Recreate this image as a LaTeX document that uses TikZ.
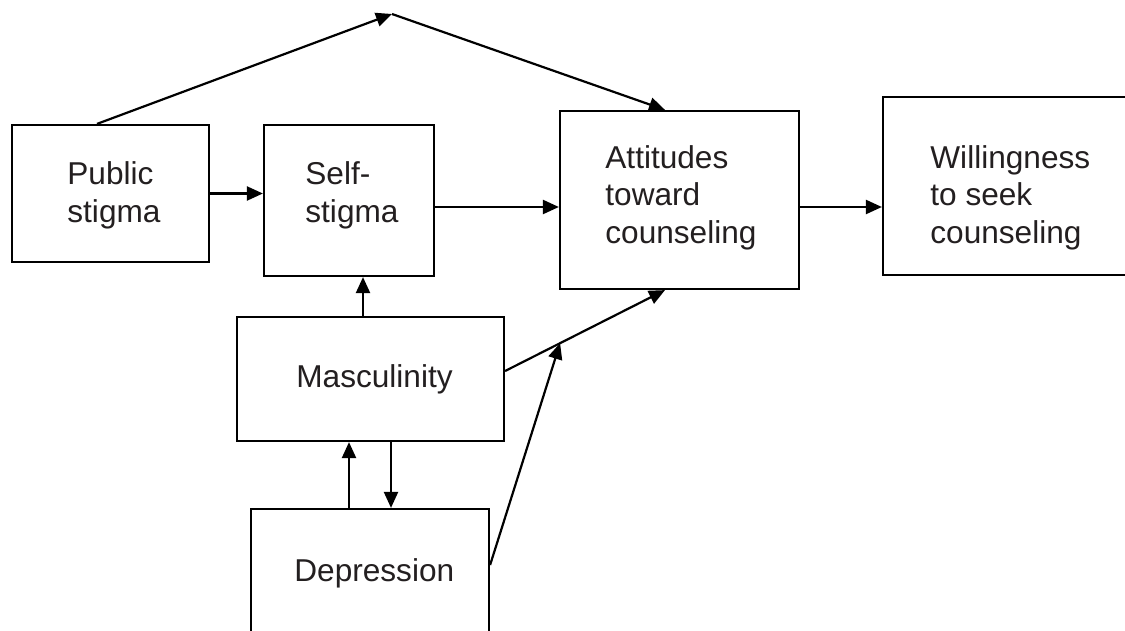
\documentclass[tikz,border=0pt]{standalone}
\usepackage{fontspec}
\setmainfont{Liberation Sans}
\usetikzlibrary{arrows.meta,calc}
\definecolor{ink}{RGB}{35,31,32}
\begin{document}
\begin{tikzpicture}[x=0.5pt,y=-0.5pt,
  box/.style={draw=black,line width=1.1pt,inner sep=0pt},
  lab/.style={anchor=base west,inner sep=0pt,align=left,text=ink,font=\fontsize{15.8}{18.7}\selectfont},
  arr/.style={line width=1.1pt,-{Triangle[length=8pt,width=7pt]}}]
\clip (0,0) rectangle (1125,631);
\fill[white] (0,0) rectangle (1125,631);
% boxes
\node[box,minimum width=98.5pt,minimum height=68.5pt] (pub) at (110.5,193.5) {};
\node[box,minimum width=85pt,minimum height=75.5pt] (self) at (349,200.5) {};
\node[box,minimum width=119.5pt,minimum height=89pt] (att) at (679.5,200) {};
\node[box,minimum width=123.5pt,minimum height=89pt] (will) at (1006.5,186) {};
\node[box,minimum width=133.5pt,minimum height=62pt] (masc) at (370.5,379) {};
\node[box,minimum width=119pt,minimum height=70.5pt] (dep) at (370,579.5) {};
% texts (base anchor = baseline of last line)
\node[lab] (tpub) at (67,222) {Public\\stigma};
\node[lab] (tself) at (305,222) {Self-\\stigma};
\node[lab] (tatt) at (605,243) {Attitudes\\toward\\counseling};
\node[lab] (twill) at (930,243) {Willingness\\to seek\\counseling};
\node[lab] (tmasc) at (296,387) {Masculinity};
\node[lab] (tdep) at (294,581) {Depression};
% connectors
\coordinate (apex) at (392,14);
\draw[arr] ([xshift=-6.75pt]pub.north) -- (apex);
\draw[arr] (apex) -- ([xshift=-7.25pt]att.north);
\draw[arr] (pub.east) -- (pub.east -| self.west);
\draw[arr] ([yshift=-3.25pt]self.east) -- ([yshift=-3.25pt]self.east -| att.west);
\draw[arr] ([yshift=-3.5pt]att.east) -- ([yshift=-3.5pt]att.east -| will.west);
\draw[arr] ([xshift=-3.75pt]masc.north) -- ([xshift=-3.75pt]masc.north |- self.south);
\draw[arr] ([xshift=-10.5pt]dep.north) -- ([xshift=-10.5pt]dep.north |- masc.south);
\draw[arr] ([xshift=10.25pt]masc.south) -- ([xshift=10.25pt]masc.south |- dep.north);
\coordinate (ma) at ([yshift=4pt]masc.east);
\coordinate (mb) at ([xshift=-7.25pt]att.south);
\draw[arr] (ma) -- (mb);
\coordinate (mid) at ($(ma)!0.344!(mb)$);
\draw[arr] ([yshift=7.25pt]dep.east) -- (mid);
\end{tikzpicture}
\end{document}
